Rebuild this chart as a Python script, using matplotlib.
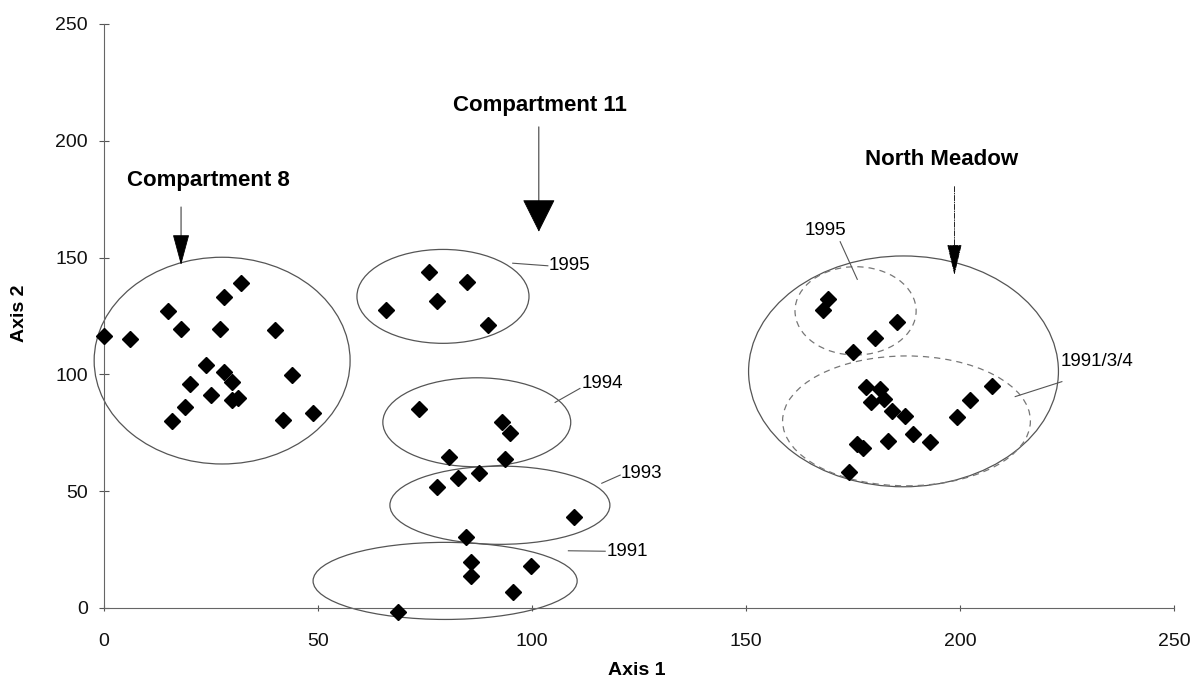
import matplotlib.pyplot as plt
from matplotlib.patches import Ellipse

plt.rcParams["font.family"] = ["Liberation Sans", "DejaVu Sans"]

# ordination scores
comp8_x = [32.0, 28.0, 15.0, 0.1, 6.0, 18.0, 27.0, 40.0, 23.9, 28.0, 30.0, 20.0,
           43.9, 25.0, 30.0, 31.2, 19.0, 16.0, 41.9, 48.9]
comp8_y = [139.3, 133.1, 127.3, 116.3, 115.3, 119.3, 119.3, 119.0, 104.0, 101.0, 96.9, 95.9,
           99.7, 91.2, 88.9, 90.0, 86.2, 80.1, 80.5, 83.6]

c11_1995_x = [75.9, 84.7, 77.8, 65.9, 89.8]
c11_1995_y = [143.7, 139.4, 131.4, 127.6, 121.0]
c11_1994_x = [73.7, 92.9, 94.9, 80.7, 93.7]
c11_1994_y = [85.2, 79.8, 74.8, 64.8, 63.7]
c11_1993_x = [82.6, 87.6, 77.7, 109.7, 84.6]
c11_1993_y = [55.8, 57.7, 51.7, 39.1, 30.5]
c11_1991_x = [85.7, 85.7, 99.7, 95.5, 68.8]
c11_1991_y = [19.6, 13.7, 18.1, 7.0, -1.6]

nm_1995_x = [169.1, 167.9, 185.2, 180.1, 175.1]
nm_1995_y = [132.1, 127.6, 122.6, 115.6, 109.6]
nm_1991_x = [178.0, 181.3, 179.1, 182.3, 184.0, 187.1, 207.4, 202.3, 199.2, 189.1,
             193.1, 183.1, 176.0, 177.3, 174.1]
nm_1991_y = [94.7, 93.6, 88.3, 89.3, 84.3, 82.3, 95.0, 89.0, 81.9, 74.4,
             71.1, 71.4, 70.2, 68.4, 58.3]

ticks = [0, 50, 100, 150, 200, 250]

fig = plt.figure(figsize=(12, 6.84), dpi=100)
ax = fig.add_axes([104 / 1200, 1 - 608 / 684, 1070 / 1200, 584 / 684])

all_x = comp8_x + c11_1995_x + c11_1994_x + c11_1993_x + c11_1991_x + nm_1995_x + nm_1991_x
all_y = comp8_y + c11_1995_y + c11_1994_y + c11_1993_y + c11_1991_y + nm_1995_y + nm_1991_y
ax.plot(all_x, all_y, "D", color="black", markersize=8.5, zorder=3)

# hand-drawn group outlines
solid = dict(fill=False, edgecolor="#555555", linewidth=0.9)
dashed = dict(fill=False, edgecolor="#777777", linewidth=0.9, linestyle=(0, (5, 4)))
ax.add_patch(Ellipse((27.6, 105.9), 59.8, 88.5, **solid))
ax.add_patch(Ellipse((79.2, 133.4), 40.2, 40.2, **solid))
ax.add_patch(Ellipse((87.1, 79.5), 43.9, 38.1, **solid))
ax.add_patch(Ellipse((92.5, 44.0), 51.4, 33.5, **solid))
ax.add_patch(Ellipse((79.7, 11.6), 61.7, 33.0, **solid))
ax.add_patch(Ellipse((186.8, 101.3), 72.4, 98.8, **solid))
ax.add_patch(Ellipse((175.6, 127.2), 28.3, 37.8, **dashed))
ax.add_patch(Ellipse((187.5, 80.1), 57.9, 55.6, **dashed))

# year labels with leader lines
lead = dict(color="#555555", linewidth=0.8)
ax.plot([95.5, 103.7], [147.6, 146.5], **lead)
ax.text(104.0, 146.5, "1995", fontsize=13.5, va="center")
ax.plot([105.4, 111.2], [88.0, 94.0], **lead)
ax.text(111.6, 96.0, "1994", fontsize=13.5, va="center")
ax.plot([116.3, 120.6], [53.4, 56.9], **lead)
ax.text(120.8, 57.5, "1993", fontsize=13.5, va="center")
ax.plot([108.5, 117.1], [24.5, 24.3], **lead)
ax.text(117.5, 24.3, "1991", fontsize=13.5, va="center")
ax.plot([172.0, 176.0], [156.8, 140.7], **lead)
ax.text(168.5, 161.8, "1995", fontsize=13.5, ha="center", va="center")
ax.plot([212.9, 223.8], [90.5, 96.9], **lead)
ax.text(223.5, 105.7, "1991/3/4", fontsize=13.5, va="center")

# site titles and arrows
ax.text(24.3, 183.2, "Compartment 8", fontsize=16, fontweight="bold", ha="center", va="center")
ax.annotate("", xy=(18.0, 146.8), xytext=(18.0, 171.7),
            arrowprops=dict(arrowstyle="-|>,head_length=20,head_width=5.4", mutation_scale=1,
                            color="black", linewidth=0.6, shrinkA=0, shrinkB=0))
ax.text(101.9, 215.3, "Compartment 11", fontsize=16, fontweight="bold", ha="center", va="center")
ax.annotate("", xy=(101.6, 161.1), xytext=(101.6, 206.0),
            arrowprops=dict(arrowstyle="-|>,head_length=21.6,head_width=10.8", mutation_scale=1,
                            color="black", linewidth=0.6, shrinkA=0, shrinkB=0))
ax.text(195.7, 191.8, "North Meadow", fontsize=16, fontweight="bold", ha="center", va="center")
ax.annotate("", xy=(198.7, 142.5), xytext=(198.7, 180.4),
            arrowprops=dict(arrowstyle="-|>,head_length=20,head_width=4.7", mutation_scale=1,
                            color="black", linewidth=0.6, linestyle="-.", shrinkA=0, shrinkB=0))

ax.set_xlim(0, 250)
ax.set_ylim(0, 250)
ax.set_xticks(ticks)
ax.set_yticks(ticks)
ax.tick_params(axis="x", direction="inout", length=4, pad=16, labelsize=14, colors="#555555",
               labelcolor="#111111")
ax.tick_params(axis="y", direction="inout", length=7, pad=8, labelsize=14, colors="#555555",
               labelcolor="#111111")
for s in ["top", "right"]:
    ax.spines[s].set_visible(False)
for s in ["left", "bottom"]:
    ax.spines[s].set_color("#666666")
    ax.spines[s].set_linewidth(0.8)
ax.set_xlabel("Axis 1", fontsize=14, fontweight="bold", va="top")
ax.set_ylabel("Axis 2", fontsize=14, fontweight="bold", va="center")
ax.xaxis.set_label_coords(0.498, -0.0925)
ax.yaxis.set_label_coords(-0.079, 0.505)
for artist in ax.patches + ax.lines:
    artist.set_clip_on(False)

fig.savefig("out.png", dpi=100)
